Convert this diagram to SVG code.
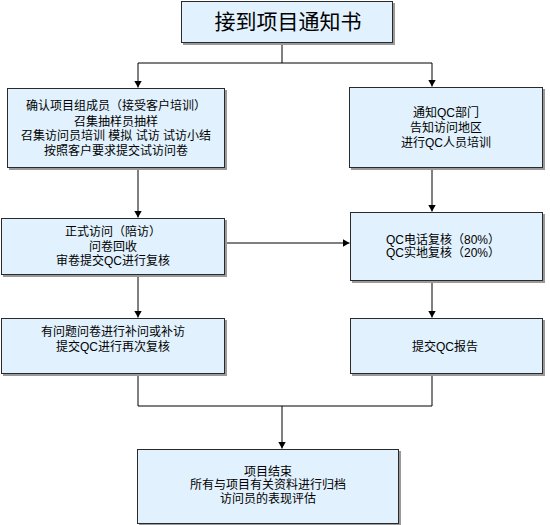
<svg xmlns="http://www.w3.org/2000/svg" width="550" height="525" viewBox="0 0 550 525">
<style>
.box{fill:#E1F1FD;stroke:#2a2a2a;stroke-width:1}
.sh{fill:#9a9a9a}
.t{font-family:"Liberation Sans","Noto Sans CJK SC",sans-serif;font-size:12px;fill:#000;text-anchor:middle}
.ttl{font-family:"Liberation Sans","Noto Sans CJK SC",sans-serif;font-size:21px;fill:#000;text-anchor:middle}
.c{stroke:#000;stroke-width:1;fill:none}
</style>
<defs>
<marker id="ah" markerWidth="8" markerHeight="8" refX="7" refY="4" orient="auto" markerUnits="userSpaceOnUse">
<path d="M0,0 L7,4 L0,8 Z" fill="#000"/>
</marker>
</defs>
<rect width="550" height="525" fill="#fff"/>
<g id="connectors">
<polyline class="c" points="282,43 282,63"/>
<polyline class="c" points="138,63 432,63"/>
<polyline class="c" points="138,63 138,87.5" marker-end="url(#ah)"/>
<polyline class="c" points="432,63 432,86.5" marker-end="url(#ah)"/>
<polyline class="c" points="138,168 138,217.5" marker-end="url(#ah)"/>
<polyline class="c" points="432,168 432,211.5" marker-end="url(#ah)"/>
<polyline class="c" points="225,243 349.5,243" marker-end="url(#ah)"/>
<polyline class="c" points="138,275 138,317.5" marker-end="url(#ah)"/>
<polyline class="c" points="432,281 432,317.5" marker-end="url(#ah)"/>
<polyline class="c" points="138,374 138,406 432,406 432,374"/>
<polyline class="c" points="282,406 282,448.5" marker-end="url(#ah)"/>
</g>
<g id="n_start">
<rect class="sh" x="183" y="3" width="212" height="42"/>
<rect class="box" x="181.5" y="1.5" width="211" height="41"/>
<text class="ttl" x="288" y="29">接到项目通知书</text>
</g>
<g id="n_l1">
<rect class="sh" x="9" y="90" width="218" height="80"/>
<rect class="box" x="7.5" y="88.5" width="217" height="79"/>
<text class="t" x="116" y="110">确认项目组成员（接受客户培训）</text>
<text class="t" x="116" y="126">召集抽样员抽样</text>
<text class="t" x="116" y="140">召集访问员培训 模拟 试访 试访小结</text>
<text class="t" x="116" y="155">按照客户要求提交试访问卷</text>
</g>
<g id="n_r1">
<rect class="sh" x="351" y="89" width="194" height="81"/>
<rect class="box" x="349.5" y="87.5" width="193" height="80"/>
<text class="t" x="446" y="117">通知QC部门</text>
<text class="t" x="446" y="132">告知访问地区</text>
<text class="t" x="446" y="147">进行QC人员培训</text>
</g>
<g id="n_l2">
<rect class="sh" x="3" y="220" width="224" height="57"/>
<rect class="box" x="1.5" y="218.5" width="223" height="56"/>
<text class="t" x="113" y="236">正式访问（陪访）</text>
<text class="t" x="113" y="251">问卷回收</text>
<text class="t" x="113" y="265">审卷提交QC进行复核</text>
</g>
<g id="n_r2">
<rect class="sh" x="352" y="214" width="193" height="69"/>
<rect class="box" x="350.5" y="212.5" width="192" height="68"/>
<text class="t" x="443" y="244">QC电话复核（80%）</text>
<text class="t" x="443" y="257">QC实地复核（20%）</text>
</g>
<g id="n_l3">
<rect class="sh" x="3" y="320" width="224" height="56"/>
<rect class="box" x="1.5" y="318.5" width="223" height="55"/>
<text class="t" x="113" y="336">有问题问卷进行补问或补访</text>
<text class="t" x="113" y="351">提交QC进行再次复核</text>
</g>
<g id="n_r3">
<rect class="sh" x="352" y="320" width="193" height="56"/>
<rect class="box" x="350.5" y="318.5" width="192" height="55"/>
<text class="t" x="445" y="351">提交QC报告</text>
</g>
<g id="n_end">
<rect class="sh" x="139" y="451" width="262" height="75"/>
<rect class="box" x="137.5" y="449.5" width="261" height="74"/>
<text class="t" x="268" y="476">项目结束</text>
<text class="t" x="268" y="489">所有与项目有关资料进行归档</text>
<text class="t" x="268" y="503">访问员的表现评估</text>
</g>
</svg>
